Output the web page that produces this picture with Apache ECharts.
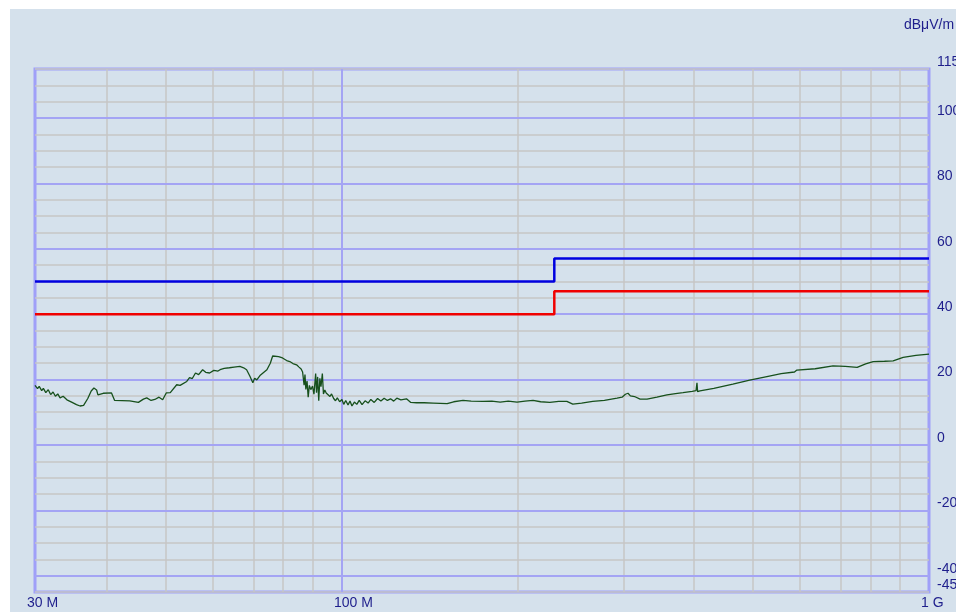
<!DOCTYPE html>
<html>
<head>
<meta charset="utf-8">
<script src="https://cdn.jsdelivr.net/npm/echarts@6/dist/echarts.min.js"></script>
<style>
    html, body { margin: 0; padding: 0; background: #ffffff; }
    #main { position: absolute; left: 10px; top: 9px; width: 946px; height: 603px; background: #d5e1ec; }
</style>
</head>
<body>
<div id="main"></div>
<script>
    // frequencies in MHz, levels in dBµV/m
    var freqMin = 30;
    var freqMax = 1000;
    var levelMin = -45;
    var levelMax = 115;

    var yLabels = [115, 100, 80, 60, 40, 20, 0, -20, -40, -45];
    var yMajor = [100, 80, 60, 40, 20, 0, -20, -40];
    var xMinor = [40, 50, 60, 70, 80, 90, 200, 300, 400, 500, 600, 700, 800, 900];
    var xMajor = [100];
    var xLabels = {30: '30 M', 100: '100 M', 1000: '1 G'};

    // limit lines (step at 230 MHz)
    var limitFreq = [30, 230, 230, 1000];
    var limitRed = [40, 40, 47, 47];
    var limitBlue = [50, 50, 57, 57];

    // measured trace
    var traceFreq = [
        30.0, 30.3, 30.5, 30.8, 31.0, 31.3, 31.6, 31.9, 32.2, 32.5, 32.8, 33.1, 33.5, 34.0, 34.7, 35.3, 35.8, 36.3,
        36.9, 37.4, 37.8, 38.2, 38.4, 38.7, 39.2, 40.5, 40.8, 41.0, 43.5, 45.0, 45.9, 46.5, 47.3, 48.0, 48.8, 49.5,
        50.2, 51.0, 52.3, 53.0, 54.4, 55.0, 55.6, 56.3, 57.0, 57.9, 58.6, 59.5, 60.5, 61.5, 62.0, 63.0, 64.3, 65.5,
        67.0, 68.0, 68.8, 69.7, 70.5, 71.0, 71.6, 72.5, 74.5, 75.5, 76.2, 76.8, 78.0, 79.2, 80.5, 81.5, 82.5, 83.7,
        84.5, 85.2, 85.7, 86.2, 86.5, 86.8, 87.2, 87.6, 88.0, 88.5, 89.1, 89.6, 90.2, 90.5, 90.9, 91.3, 91.7, 92.1,
        92.6, 93.0, 93.5, 94.0, 94.6, 95.4, 96.0, 96.8, 97.5, 98.2, 99.1, 100.0, 100.7, 101.5, 102.4, 103.2, 104.0,
        105.0, 106.0, 107.0, 108.2, 109.5, 110.8, 112.0, 113.5, 115.0, 116.5, 118.0, 119.5, 121.0, 122.5, 124.0,
        126.0, 128.8, 131.0, 134.0, 138.0, 143.0, 147.0, 151.1, 155.0, 160.8, 166.0, 173.9, 180.0, 186.0, 192.0,
        198.7, 205.0, 211.6, 218.0, 226.0, 234.0, 241.6, 247.3, 256.0, 267.4, 280.0, 294.2, 300.0, 304.0, 307.1,
        310.0, 315.0, 322.0, 330.9, 344.0, 357.8, 370.0, 381.0, 395.0, 401.0, 402.5, 403.5, 407.2, 430.0, 463.3,
        495.0, 529.5, 560.0, 590.0, 595.6, 600.0, 640.0, 686.3, 720.0, 754.4, 780.0, 803.4, 840.0, 868.8, 903.6,
        950.0, 1000.0
    ];
    var traceLevel = [
        18.2, 17.2, 17.9, 16.6, 17.3, 16.0, 16.9, 15.4, 16.2, 14.9, 15.6, 14.4, 14.9, 13.8, 13.0, 12.3, 11.9, 12.1,
        14.2, 16.5, 17.4, 16.8, 15.3, 15.9, 15.8, 15.9, 15.5, 13.6, 13.5, 13.0, 14.0, 14.4, 13.6, 13.9, 14.6, 13.8,
        15.9, 16.0, 18.4, 18.2, 19.4, 20.6, 20.3, 22.0, 21.5, 23.0, 22.2, 22.0, 22.8, 22.6, 23.0, 23.4, 23.6, 23.8,
        24.0, 23.6, 23.0, 21.0, 19.0, 20.4, 19.9, 21.2, 23.0, 25.0, 27.2, 27.5, 27.0, 26.6, 25.8, 25.5, 24.9, 24.5,
        23.8, 23.2, 22.3, 18.3, 21.5, 17.0, 19.5, 14.6, 18.2, 16.9, 18.0, 15.5, 21.8, 16.0, 20.8, 13.5, 20.4, 17.8,
        21.8, 15.6, 16.8, 15.9, 16.3, 14.8, 15.6, 14.2, 13.5, 14.4, 13.2, 13.9, 12.4, 13.6, 12.2, 13.4, 11.9,
        13.1, 12.4, 13.6, 12.3, 13.5, 12.8, 13.9, 13.0, 14.2, 13.4, 14.3, 13.6, 14.1, 13.4, 14.3,
        13.8, 14.1, 13.0, 12.9, 12.9, 12.8, 12.7, 12.6, 13.2, 13.6, 13.4, 13.3, 13.4, 13.1, 13.4,
        13.1, 13.4, 13.6, 13.2, 13.0, 13.3, 13.3, 12.5, 12.8, 13.3, 13.6, 14.3, 14.6, 15.5, 15.8,
        15.0, 14.8, 14.0, 14.0, 14.6, 15.3, 15.7, 16.0, 16.4, 16.6, 19.0, 16.3, 16.5, 17.3, 18.6,
        19.8, 20.9, 21.8, 22.3, 22.9, 22.4, 23.3, 24.2, 24.0, 23.7, 24.8, 25.5, 25.6, 25.7, 26.8,
        27.4, 27.8
    ];

    var textColor = '#1e1e8c';
    var fontFamily = 'Liberation Sans, Arial, sans-serif';

    function lg(f) { return Math.log10(f); }
    function pairs(fs, vs) {
        return fs.map(function (f, i) { return [lg(f), vs[i]]; });
    }

    var chart = echarts.init(document.getElementById('main'));

    var gridLines = [];
    xMinor.forEach(function (f) {
        gridLines.push({xAxis: lg(f), lineStyle: {color: '#c6c6c6', width: 1.5, type: 'solid'}});
    });
    xMajor.forEach(function (f) {
        gridLines.push({xAxis: lg(f), lineStyle: {color: '#a4a4f4', width: 2, type: 'solid'}});
    });
    yMajor.forEach(function (v) {
        gridLines.push({yAxis: v, lineStyle: {color: '#a4a4f4', width: 2, type: 'solid'}});
    });

    var option = {
        animation: false,
        grid: {
            left: 25, right: 27, top: 60, bottom: 20,
            outerBoundsMode: 'none',
            containLabel: false,
            show: true,
            borderColor: '#a0a0f8',
            borderWidth: 3,
            backgroundColor: 'transparent'
        },
        xAxis: {
            type: 'value',
            min: lg(freqMin),
            max: lg(freqMax),
            axisLine: {show: false},
            axisTick: {show: false},
            splitLine: {show: false},
            axisLabel: {
                customValues: [lg(30), lg(100), lg(1000)],
                formatter: function (v) {
                    var f = Math.round(Math.pow(10, v));
                    return xLabels[f] || '';
                },
                color: textColor,
                fontFamily: fontFamily,
                fontSize: 14,
                margin: 4,
                align: 'left',
                padding: [0, 0, 0, -8]
            }
        },
        yAxis: {
            type: 'value',
            position: 'right',
            min: levelMin,
            max: levelMax,
            interval: 5,
            name: 'dBμV/m',
            nameLocation: 'end',
            nameGap: 44,
            nameTextStyle: {
                color: textColor,
                fontFamily: fontFamily,
                fontSize: 14,
                align: 'center',
                verticalAlign: 'middle'
            },
            axisLine: {show: false},
            axisTick: {show: false},
            splitLine: {show: true, lineStyle: {color: '#c6c6c6', width: 1.5}},
            axisLabel: {
                formatter: function (v) {
                    return yLabels.indexOf(v) >= 0 ? String(v) : '';
                },
                color: textColor,
                fontFamily: fontFamily,
                fontSize: 14,
                margin: 8,
                verticalAlign: 'bottom',
                lineHeight: 14
            }
        },
        series: [
            {
                name: 'grid',
                type: 'line',
                data: [],
                silent: true,
                markLine: {
                    z: 1,
                    silent: true,
                    symbol: ['none', 'none'],
                    label: {show: false},
                    data: gridLines
                }
            },
            {
                name: 'Limit A',
                type: 'line',
                z: 10,
                data: pairs(limitFreq, limitBlue),
                showSymbol: false,
                lineStyle: {color: '#0000e0', width: 2.5},
                itemStyle: {color: '#0000e0'}
            },
            {
                name: 'Limit B',
                type: 'line',
                z: 10,
                data: pairs(limitFreq, limitRed),
                showSymbol: false,
                lineStyle: {color: '#f00000', width: 2.5},
                itemStyle: {color: '#f00000'}
            },
            {
                name: 'Trace',
                type: 'line',
                z: 11,
                data: pairs(traceFreq, traceLevel),
                showSymbol: false,
                lineStyle: {color: '#17501c', width: 1.3},
                itemStyle: {color: '#17501c'}
            }
        ]
    };

    chart.setOption(option);
</script>
</body>
</html>
